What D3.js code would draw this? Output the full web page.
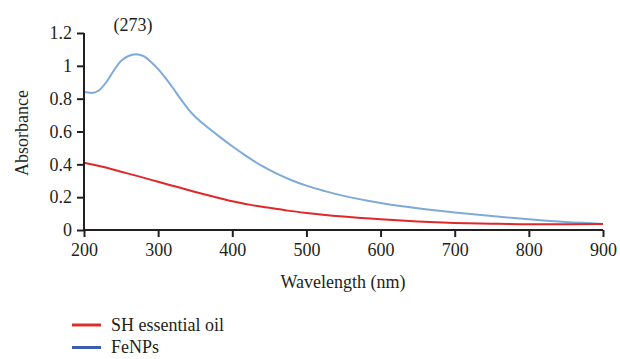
<!DOCTYPE html>
<html><head><meta charset="utf-8">
<script src="https://cdn.jsdelivr.net/npm/d3@7"></script>
<style>body{margin:0;background:#fff}svg{display:block}text{font-family:"Liberation Serif","DejaVu Serif",serif;fill:#231f20}</style>
</head><body>
<svg id="c" width="620" height="359"></svg>
<script>
const wavelengthFe = [200,210,220,230,240,250,260,270,280,290,300,310,320,330,340,350,360,380,400,420,440,460,480,500,525,550,600,650,700,750,800,850,900];
const absorbanceFe = [0.84,0.835,0.85,0.9,0.97,1.03,1.06,1.07,1.06,1.025,0.98,0.925,0.865,0.8,0.74,0.69,0.65,0.578,0.51,0.447,0.39,0.343,0.303,0.27,0.237,0.208,0.165,0.133,0.107,0.085,0.065,0.048,0.037];
const wavelengthOil = [200,225,250,275,300,325,350,375,400,425,450,475,500,550,600,650,700,750,800,850,900];
const absorbanceOil = [0.41,0.385,0.355,0.325,0.294,0.263,0.232,0.203,0.175,0.153,0.135,0.118,0.104,0.082,0.065,0.052,0.043,0.038,0.035,0.035,0.037];
const xTicks = [200,300,400,500,600,700,800,900];
const yTicks = [0,0.2,0.4,0.6,0.8,1,1.2];
const seriesNames = ["SH essential oil","FeNPs"];
const peakLabel = "(273)";

const svg = d3.select("#c");
const x = d3.scaleLinear().domain([200,900]).range([84,603]);
const y = d3.scaleLinear().domain([0,1.2]).range([230,33]);

const line = d3.line().x(d=>x(d[0])).y(d=>y(d[1])).curve(d3.curveMonotoneX);
svg.append("path").datum(wavelengthFe.map((w,i)=>[w,absorbanceFe[i]]))
  .attr("d",line).attr("fill","none").attr("stroke","#7eaad9").attr("stroke-width",2);
svg.append("path").datum(wavelengthOil.map((w,i)=>[w,absorbanceOil[i]]))
  .attr("d",line).attr("fill","none").attr("stroke","#e2272a").attr("stroke-width",2);

const xa = svg.append("g").attr("transform","translate(0,230)")
  .call(d3.axisBottom(x).tickValues(xTicks).tickSize(7).tickPadding(6).tickFormat(d3.format("d")));
const ya = svg.append("g").attr("transform","translate(84,0)")
  .call(d3.axisLeft(y).tickValues(yTicks).tickSize(7).tickPadding(5).tickFormat(d=>String(+d.toFixed(1))));
[xa,ya].forEach(g=>{
  g.select(".domain").attr("stroke","#231f20").attr("stroke-width",2);
  g.selectAll(".tick line").attr("stroke","#231f20").attr("stroke-width",2);
  g.selectAll(".tick text").attr("font-size",18).attr("fill","#231f20").style("font-family","'Liberation Serif',serif");
});
ya.select(".domain").attr("d","M0,33V230");
xa.select(".domain").attr("d","M84,0H603");

svg.append("text").attr("x",343).attr("y",288).attr("text-anchor","middle").attr("font-size",18).text("Wavelength (nm)");
svg.append("text").attr("transform","translate(28,133) rotate(-90)").attr("text-anchor","middle").attr("font-size",18).text("Absorbance");
svg.append("text").attr("x",133).attr("y",31).attr("text-anchor","middle").attr("font-size",18).text(peakLabel);

const legColors = ["#d8302a","#3d5eb0"];
seriesNames.forEach((n,i)=>{
  const yy = 325 + i*22.5;
  svg.append("line").attr("x1",72).attr("x2",101).attr("y1",yy).attr("y2",yy).attr("stroke",legColors[i]).attr("stroke-width",3);
  svg.append("text").attr("x",111).attr("y",yy+5.5).attr("font-size",18).text(n);
});
</script>
</body></html>
